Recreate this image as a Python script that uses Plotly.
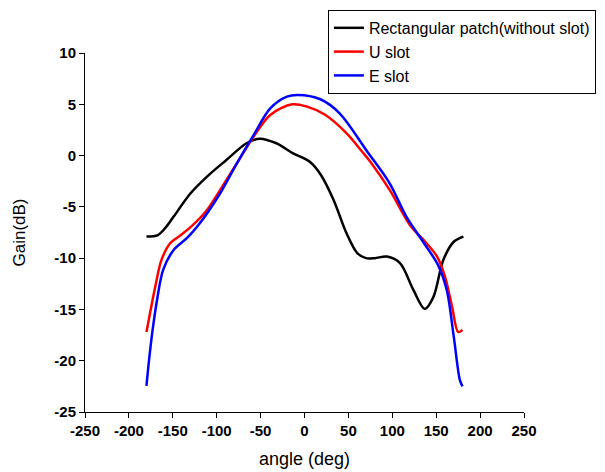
import plotly.graph_objects as go

# Rectangular patch (without slot)
rect_angle = [-180, -167, -158, -149, -130, -111, -89, -66, -51, -32, -13, 6, 18, 33, 48, 60, 70, 80, 94, 109, 124, 137, 147, 158, 170, 181]
rect_gain = [-7.9, -7.75, -7.0, -5.95, -3.7, -2.05, -0.43, 1.2, 1.65, 1.2, 0.22, -0.6, -1.8, -4.3, -7.6, -9.5, -10.0, -10.0, -9.85, -10.5, -13.1, -14.95, -13.75, -10.2, -8.4, -7.9]

# U slot
u_angle = [-180, -176, -170, -163, -153, -140, -127, -111, -96, -77, -58, -39, -14, 3, 23, 48, 65, 75, 97, 120, 139, 151, 160, 168, 175, 180]
u_gain = [-17.2, -15.4, -12.8, -10.2, -8.55, -7.7, -6.76, -5.3, -3.35, -0.75, 1.84, 3.96, 5.0, 4.77, 4.0, 2.17, 0.45, -0.6, -3.35, -6.76, -8.55, -9.85, -11.8, -14.7, -17.2, -17.0]

# E slot
e_angle = [-180, -177, -173, -168, -161, -149, -134, -121, -96, -77, -58, -39, -20, -8, 18, 40, 71, 97, 116, 135, 152, 162, 170, 177, 180]
e_gain = [-22.45, -19.9, -17.0, -14.1, -11.15, -9.2, -8.06, -6.8, -3.67, -0.75, 2.0, 4.6, 5.74, 5.9, 5.49, 4.12, 0.45, -2.7, -5.95, -8.4, -10.66, -13.1, -17.65, -21.9, -22.5]

x_ticks = [-250, -200, -150, -100, -50, 0, 50, 100, 150, 200, 250]
y_ticks = [10, 5, 0, -5, -10, -15, -20, -25]

FONT = "Liberation Sans, Arial, sans-serif"

fig = go.Figure()
fig.add_trace(go.Scatter(x=rect_angle, y=rect_gain, mode="lines", name="Rectangular patch(without slot)",
                         line=dict(color="black", width=2.5, shape="spline", smoothing=0.9)))
fig.add_trace(go.Scatter(x=u_angle, y=u_gain, mode="lines", name="U slot",
                         line=dict(color="#ff0000", width=2.5, shape="spline", smoothing=0.9)))
fig.add_trace(go.Scatter(x=e_angle, y=e_gain, mode="lines", name="E slot",
                         line=dict(color="#0000ff", width=2.5, shape="spline", smoothing=0.9)))

fig.update_layout(
    width=605, height=472,
    margin=dict(l=85, r=81, t=53, b=60, autoexpand=False),
    paper_bgcolor="white", plot_bgcolor="white",
    font=dict(family=FONT, color="black"),
    showlegend=True,
    legend=dict(xref="container", yref="container", x=0.542, y=0.979, xanchor="left", yanchor="top",
                bordercolor="black", borderwidth=1, bgcolor="white",
                font=dict(family=FONT, size=16, color="black"),
                tracegroupgap=0, itemwidth=30),
    xaxis=dict(range=[-250, 250], tickvals=x_ticks, ticktext=[str(v) for v in x_ticks],
               showgrid=False, zeroline=False, showline=True, linecolor="black", linewidth=1,
               ticks="outside", ticklen=5, tickcolor="black", automargin=False,
               tickfont=dict(family=FONT, size=15, weight="bold", color="black"),
               title=dict(text="angle (deg)", font=dict(family=FONT, size=18), standoff=14)),
    yaxis=dict(range=[-25, 10], tickvals=y_ticks, ticktext=[str(v) for v in y_ticks],
               showgrid=False, zeroline=False, showline=True, linecolor="black", linewidth=1,
               ticks="outside", ticklen=5, tickcolor="black", automargin=False,
               tickfont=dict(family=FONT, size=15, weight="bold", color="black"),
               title=dict(text="Gain(dB)", font=dict(family=FONT, size=17), standoff=24)),
)

fig.write_html("out.html")
